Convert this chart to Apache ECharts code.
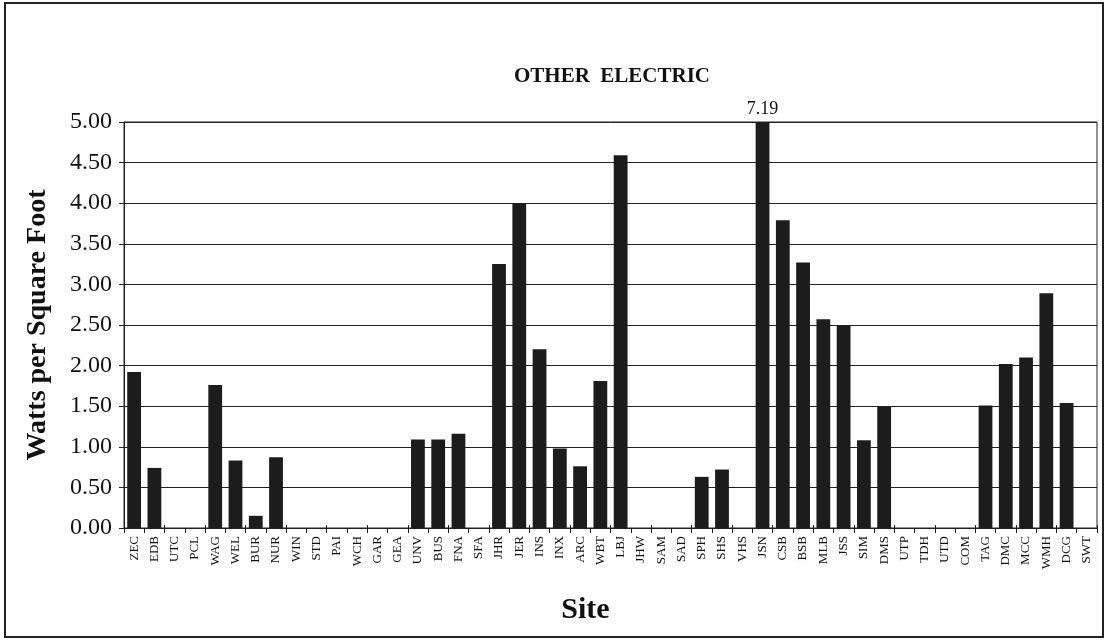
<!DOCTYPE html>
<html>
<head>
<meta charset="utf-8">
<style>
  html, body { margin: 0; padding: 0; background: #fff; }
  #frame { position: absolute; left: 4px; top: 2px; width: 1096px; height: 632px; border: 2px solid #222; }
  #chart { position: absolute; left: 0; top: 0; width: 1108px; height: 640px; }
</style>
<script src="https://cdn.jsdelivr.net/npm/echarts@6/dist/echarts.min.js"></script>
</head>
<body>
<div id="frame"></div>
<div id="chart"></div>
<script>
// Site codes along the horizontal axis
const sites = ['ZEC','EDB','UTC','PCL','WAG','WEL','BUR','NUR','WIN','STD','PAI','WCH','GAR','GEA',
  'UNV','BUS','FNA','SFA','JHR','JER','INS','INX','ARC','WBT','LBJ','JHW','SAM','SAD','SPH','SHS',
  'VHS','JSN','CSB','BSB','MLB','JSS','SIM','DMS','UTP','TDH','UTD','COM','TAG','DMC','MCC','WMH',
  'DCG','SWT'];

// Other electric load, watts per square foot (null = no data for the site)
const wattsPerSqFt = [1.92, 0.74, null, null, 1.76, 0.83, 0.15, 0.87, null, null, null, null, null, null,
  1.09, 1.09, 1.16, null, 3.25, 4.00, 2.20, 0.98, 0.76, 1.81, 4.59, null, null, null, 0.63, 0.72,
  null, 7.19, 3.79, 3.27, 2.57, 2.49, 1.08, 1.49, null, null, null, null, 1.51, 2.02, 2.10, 2.89,
  1.54, null];

// Value axis ticks
const yMin = 0, yMax = 5, yStep = 0.5;

const serif = '"Liberation Serif", "Times New Roman", serif';

const chart = echarts.init(document.getElementById('chart'), null, { renderer: 'canvas' });
chart.setOption({
  animation: false,
  backgroundColor: 'transparent',
  title: {
    text: 'OTHER  ELECTRIC',
    left: 607, top: 61, textAlign: 'center',
    textStyle: { fontFamily: serif, fontWeight: 'bold', fontSize: 21, color: '#111' }
  },
  grid: {
    left: 124, right: 11, top: 122, bottom: 112,
    show: true, borderColor: '#222', borderWidth: 1, backgroundColor: 'transparent'
  },
  xAxis: [{
    type: 'category',
    data: sites,
    name: 'Site',
    nameLocation: 'middle',
    nameGap: 67,
    nameTextStyle: { fontFamily: serif, fontWeight: 'bold', fontSize: 30, color: '#111', padding: [0, 50, 0, 0] },
    axisLine: { lineStyle: { color: '#222', width: 1 } },
    axisTick: { show: true, length: 5, lineStyle: { color: '#222' } },
    axisLabel: { rotate: 90, interval: 0, margin: 8, fontFamily: serif, fontSize: 13, color: '#111' }
  }, {
    // inner half of the crossing tick marks
    type: 'category',
    data: sites,
    position: 'bottom',
    axisLine: { show: false },
    axisTick: { show: true, inside: true, length: 3, lineStyle: { color: '#222' } },
    axisLabel: { show: false }
  }],
  yAxis: {
    type: 'value',
    min: yMin, max: yMax, interval: yStep,
    name: 'Watts per Square Foot',
    nameLocation: 'middle',
    nameGap: 72,
    nameTextStyle: { fontFamily: serif, fontWeight: 'bold', fontSize: 28, color: '#111' },
    axisLine: { show: true, lineStyle: { color: '#222', width: 1 } },
    axisTick: { show: true, length: 5, lineStyle: { color: '#222' } },
    axisLabel: {
      margin: 12, fontFamily: serif, fontSize: 24, color: '#111',
      formatter: v => v.toFixed(2)
    },
    splitLine: { show: true, lineStyle: { color: '#222', width: 1 } }
  },
  series: [{
    type: 'bar',
    data: wattsPerSqFt.map(v => v > yMax
      ? { value: v, label: { show: true, position: 'top', distance: 4, formatter: p => p.value.toFixed(2),
          fontFamily: serif, fontSize: 18, color: '#111' } }
      : v),
    barWidth: '68%',
    clip: true,
    itemStyle: { color: '#1c1c1c' }
  }]
});
</script>
</body>
</html>
